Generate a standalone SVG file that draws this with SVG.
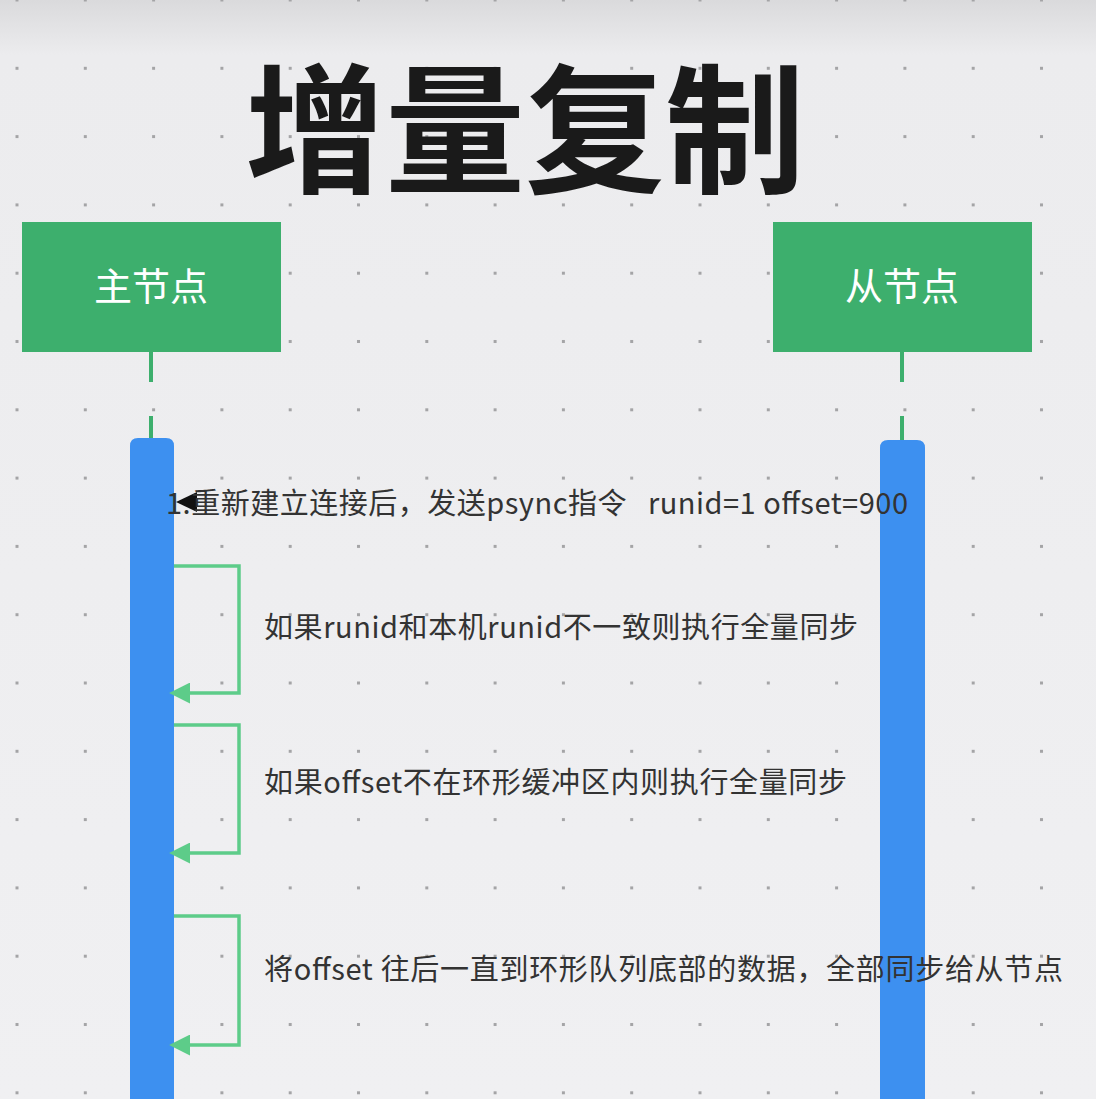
<svg xmlns="http://www.w3.org/2000/svg" width="1096" height="1099" viewBox="0 0 1096 1099">
<defs>
<linearGradient id="bg" x1="0" y1="0" x2="0" y2="1">
<stop offset="0" stop-color="#dadadc"/>
<stop offset="0.05" stop-color="#ececee"/>
<stop offset="1" stop-color="#f0f0f2"/>
</linearGradient>
<pattern id="dots" x="-17.15" y="-34.15" width="68.3" height="68.3" patternUnits="userSpaceOnUse">
<rect x="32.65" y="32.65" width="3" height="3" fill="#a4a4a6"/>
</pattern>
<marker id="ga" viewBox="0 0 10 10" refX="1" refY="5" markerWidth="6" markerHeight="6" orient="auto-start-reverse" markerUnits="strokeWidth">
<path d="M0,0 L10,5 L0,10 z" fill="#5dcc89"/>
</marker>
<style>
.box{fill:#3daf6d;}
.boxt{font-family:"Noto Sans CJK SC","Noto Sans",sans-serif;font-size:38px;fill:#ffffff;text-anchor:middle;}
.life{stroke:#3daf6d;stroke-width:4;stroke-dasharray:30 34;fill:none;}
.bar{fill:#3d90f0;}
.loop{stroke:#5dcc89;stroke-width:3.5;fill:none;}
.lbl{font-family:"Noto Sans CJK SC","Noto Sans",sans-serif;font-size:29px;fill:#333333;white-space:pre;}
</style>
</defs>
<rect width="1096" height="1099" fill="url(#bg)"/>
<rect width="1096" height="1099" fill="url(#dots)"/>
<text x="525" y="182" font-family="'Noto Sans CJK SC',sans-serif" font-weight="bold" font-size="140" fill="#1a1a1a" text-anchor="middle">增量复制</text>
<g id="master">
<rect class="box" x="22" y="222" width="259" height="130"/>
<text class="boxt" x="151" y="300">主节点</text>
<path class="life" d="M151,352 V440"/>
<path class="bar" d="M130,1099 V446 Q130,438 138,438 H166 Q174,438 174,446 V1099 z"/>
</g>
<g id="slave">
<rect class="box" x="773" y="222" width="259" height="130"/>
<text class="boxt" x="902" y="300">从节点</text>
<path class="life" d="M902,352 V442"/>
<path class="bar" d="M880,1099 V448 Q880,440 888,440 H917 Q925,440 925,448 V1099 z"/>
</g>
<g id="connectors">
<polygon points="176,502 197,492 197,512" fill="#111111"/>
<path class="loop" d="M174,566 H239 V693 H188" marker-end="url(#ga)"/>
<path class="loop" d="M174,725 H239 V853 H188" marker-end="url(#ga)"/>
<path class="loop" d="M174,916 H239 V1045 H188" marker-end="url(#ga)"/>
</g>
<g id="labels">
<text class="lbl" x="166" y="514" font-size="28" textLength="742" lengthAdjust="spacing">1.重新建立连接后，发送psync指令   runid=1 offset=900</text>
<text class="lbl" x="264" y="638" textLength="594" lengthAdjust="spacing">如果runid和本机runid不一致则执行全量同步</text>
<text class="lbl" x="264" y="793" textLength="583" lengthAdjust="spacing">如果offset不在环形缓冲区内则执行全量同步</text>
<text class="lbl" x="264" y="980" textLength="799" lengthAdjust="spacing">将offset 往后一直到环形队列底部的数据，全部同步给从节点</text>
</g>
</svg>
